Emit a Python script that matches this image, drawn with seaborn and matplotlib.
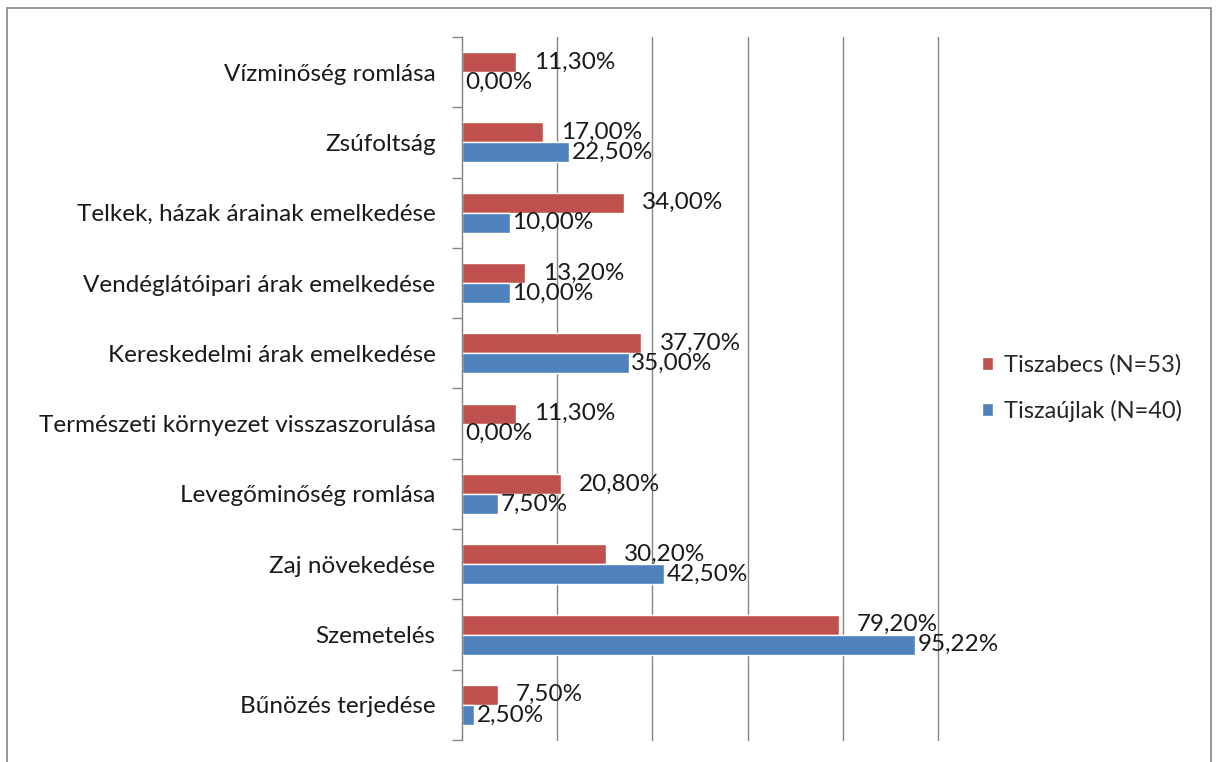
import matplotlib
matplotlib.use("Agg")
import matplotlib.pyplot as plt
import seaborn as sns
import pandas as pd
from matplotlib.patches import Rectangle

categories = [
    "Vízminőség romlása",
    "Zsúfoltság",
    "Telkek, házak árainak emelkedése",
    "Vendéglátóipari árak emelkedése",
    "Kereskedelmi árak emelkedése",
    "Természeti környezet visszaszorulása",
    "Levegőminőség romlása",
    "Zaj növekedése",
    "Szemetelés",
    "Bűnözés terjedése",
]
tiszabecs = [11.30, 17.00, 34.00, 13.20, 37.70, 11.30, 20.80, 30.20, 79.20, 7.50]
tiszaujlak = [0.00, 22.50, 10.00, 10.00, 35.00, 0.00, 7.50, 42.50, 95.22, 2.50]
series = ["Tiszabecs (N=53)", "Tiszaújlak (N=40)"]
colors = ["#C0504D", "#4F81BD"]

df = pd.DataFrame({"kat": categories, series[0]: tiszabecs, series[1]: tiszaujlak})
df = df.melt(id_vars="kat", var_name="telepules", value_name="arany")

sns.set_style("white")
plt.rcParams["font.family"] = ["Lato", "DejaVu Sans"]

fig = plt.figure(figsize=(12.19, 7.62), dpi=100)
ax = fig.add_axes([462 / 1219, 1 - 740 / 762, (938 - 462) / 1219, (740 - 37) / 762])

sns.barplot(data=df, x="arany", y="kat", hue="telepules", order=categories,
            hue_order=series, palette=colors, width=0.57, orient="h",
            saturation=1, ax=ax, legend=True)

# data labels, Excel style with decimal comma
for cont, pad in zip(ax.containers, [13, 2]):
    labs = [f"{b.get_width():.2f}%".replace(".", ",") for b in cont]
    ax.bar_label(cont, labels=labs, padding=pad, fontsize=17.5, color="#1a1a1a")

ax.set_xlim(0, 100)
ax.set_ylim(len(categories) - 0.5, -0.5)
ax.set_xticks([0, 20, 40, 60, 80, 100])
ax.set_xticklabels([])
ax.tick_params(axis="x", length=0)
ax.grid(axis="x", color="#868686", linewidth=1)
for gl in ax.get_xgridlines():
    gl.set_clip_on(False)
ax.set_axisbelow(True)
ax.set_xlabel("")
ax.set_ylabel("")

ax.set_yticks(range(len(categories)))
ax.set_yticklabels(categories, fontsize=17.5, color="#1a1a1a")
ax.set_yticks([i - 0.5 for i in range(len(categories) + 1)], minor=True)
ax.tick_params(axis="y", which="major", length=0, pad=19)
ax.tick_params(axis="y", which="minor", length=7, color="#868686", width=1, left=True)

for s in ["top", "right", "bottom"]:
    ax.spines[s].set_visible(False)
ax.spines["left"].set_color("#868686")

ax.legend(loc="center left", bbox_to_anchor=(961 / 1219, 1 - 388 / 762),
          bbox_transform=fig.transFigure, frameon=False, fontsize=17,
          handlelength=0.45, handleheight=0.45, labelspacing=1.0, handletextpad=0.45)

fig.patches.append(Rectangle((7 / 1219, -0.01), (1211 - 7) / 1219, 1 - 8 / 762 + 0.01,
                             transform=fig.transFigure, fill=False,
                             edgecolor="#868686", linewidth=1.2))

fig.savefig("out.png", dpi=100)
